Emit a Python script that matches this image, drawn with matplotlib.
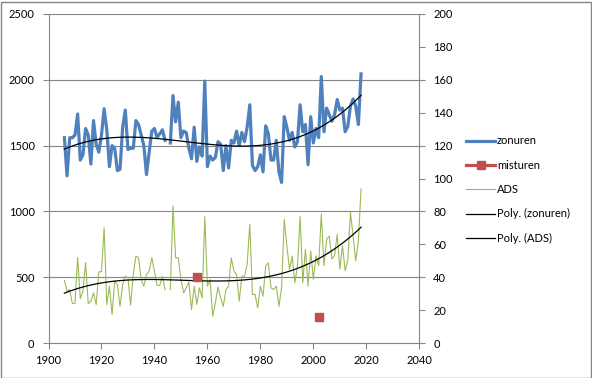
import numpy as np
import matplotlib
matplotlib.use("Agg")
import matplotlib.pyplot as plt
from matplotlib.patches import Rectangle

years = list(range(1906, 2019))

zonuren = [1560, 1270, 1560, 1560, 1580, 1740, 1390, 1430, 1630, 1580,
           1360, 1690, 1510, 1450, 1580, 1780, 1620, 1340, 1500, 1480,
           1310, 1320, 1640, 1770, 1470, 1480, 1480, 1690, 1660, 1580,
           1500, 1280, 1450, 1610, 1630, 1560, 1590, 1620, 1540, np.nan,
           1520, 1880, 1680, 1830, 1560, 1610, 1600, 1480, 1400, 1640,
           1380, 1490, 1420, 1990, 1340, 1420, 1390, 1410, 1530, 1510,
           1310, 1500, 1330, 1540, 1520, 1610, 1500, 1600, 1530, 1640,
           1810, 1350, 1310, 1340, 1430, 1300, 1650, 1590, 1390, 1390,
           1540, 1300, 1220, 1720, 1640, 1540, 1600, 1490, 1530, 1810,
           1605, 1660, 1355, 1720, 1520, 1630, 1560, 2025, 1605, 1785,
           1735, 1685, 1735, 1850, 1770, 1785, 1605, 1645, 1800, 1855,
           1800, 1660, 2045]

ads = [38, 31.6, 32.5, 24, 24, 52, 27, 31.5, 48.8, 24,
       25.4, 30.5, 23.4, 43.3, 43.3, 70, 23.4, 34.5, 17.3, 37.6,
       35.5, 22.3, 35.5, 40.6, 39.6, 23, 41.6, 52.8, 51.8, 38.6,
       34.5, 41.6, 43.7, 51.8, 43.7, 35, 35, 40.6, 32.5, np.nan,
       32.5, 83.3, 51.8, 51.8, 38.6, 30.5, 33.5, 37, 20.3, 34.5,
       23.4, 33.5, 27.4, 76.8, 34.5, 38.6, 16.3, 24.4, 34, 27.4,
       22.3, 32.5, 34.5, 51.8, 43.7, 41.6, 25.4, 40.6, 40.6, 47.7,
       72, 29.5, 29.5, 21.3, 34.5, 28.4, 46.7, 48.8, 33.5, 32.5,
       34.5, 22.3, 33.5, 75, 58.9, 44.7, 52.8, 36.6, 46.7, 77,
       36.6, 57, 34.6, 56, 38.7, 53, 47, 78.4, 47, 63,
       65, 51, 53, 66, 45, 59, 44, 50, 79.4, 65,
       50, 62, 93.7]

misturen_years = [1956, 2002]
misturen_vals = [40, 16]

left_ticks = [0, 500, 1000, 1500, 2000, 2500]
right_ticks = [0, 20, 40, 60, 80, 100, 120, 140, 160, 180, 200]
x_ticks = [1900, 1920, 1940, 1960, 1980, 2000, 2020, 2040]

yrs = np.array(years, dtype=float)
zon = np.array(zonuren, dtype=float)
adsa = np.array(ads, dtype=float)
mist = np.full(len(yrs), np.nan)
for y, v in zip(misturen_years, misturen_vals):
    mist[years.index(y)] = v

def polytrend(x, y, order=3):
    m = ~np.isnan(y)
    xc = x[m] - 1960.0
    c = np.polyfit(xc, y[m], order)
    return np.polyval(c, x - 1960.0)

plt.rcParams['font.family'] = ['Lato', 'DejaVu Sans']
plt.rcParams['font.size'] = 8

fig = plt.figure(figsize=(5.92, 3.78), dpi=100)
ax = fig.add_axes([48.5/592, 1-343/378, (419.3-48.5)/592, (343-14)/378])
ax2 = ax.twinx()

grid_c = '#868686'
blue = '#4F81BD'
red = '#C0504D'
green = '#9BBB59'

l1, = ax.plot(yrs, zon, color=blue, lw=2.3, label='zonuren', solid_joinstyle='round')
l4, = ax.plot(yrs, polytrend(yrs, zon), color='black', lw=0.9, label='Poly. (zonuren)')
l3, = ax2.plot(yrs, adsa, color=green, lw=0.8, label='ADS')
l5, = ax2.plot(yrs, polytrend(yrs, adsa), color='black', lw=0.9, label='Poly. (ADS)')
l2, = ax2.plot(yrs, mist, color=red, lw=2.3, marker='s', markersize=6,
               markeredgecolor=red, label='misturen')

ax.set_xlim(1900, 2040)
ax.set_ylim(0, 2500)
ax2.set_ylim(0, 200)
ax.set_xticks(x_ticks)
ax.set_yticks(left_ticks)
ax2.set_yticks(right_ticks)

ax.yaxis.grid(True, color=grid_c, lw=0.8)
ax.set_axisbelow(True)

for a in (ax, ax2):
    for s in a.spines.values():
        s.set_color(grid_c)
        s.set_linewidth(0.8)
    a.spines['top'].set_visible(False)
ax.spines['right'].set_visible(False)
ax2.spines['left'].set_visible(False)
ax2.spines['bottom'].set_visible(False)

ax.tick_params(axis='x', direction='out', length=4, width=0.8, color=grid_c, pad=5, labelsize=8)
ax.tick_params(axis='y', direction='out', length=4, width=0.8, color=grid_c, pad=6, labelsize=8)
ax2.tick_params(axis='y', direction='out', length=4, width=0.8, color=grid_c, pad=6, labelsize=8)

fig.legend(handles=[l1, l2, l3, l4, l5], loc='upper left',
           bbox_to_anchor=(462/592, 1-131/378), frameon=False,
           handlelength=2.6, handletextpad=0.15, labelspacing=1.2,
           fontsize=8, borderaxespad=0)

fig.patches.append(Rectangle((0.5/592, 0.5/378), 590/592, 376/378, transform=fig.transFigure,
                             fill=False, edgecolor=grid_c, lw=1))

fig.savefig('out.png', dpi=100)
